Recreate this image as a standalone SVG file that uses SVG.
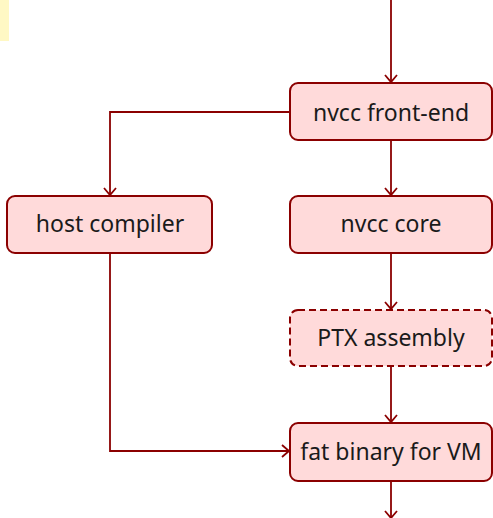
<svg xmlns="http://www.w3.org/2000/svg" width="493" height="518" viewBox="0 0 493 518">
<style>
.box{fill:#ffdada;stroke:#8b0000;stroke-width:2}
.dash{stroke-dasharray:7,4}
.lbl{font-family:"Noto Sans","Open Sans",sans-serif;font-size:23px;fill:#1a1a1a;text-anchor:middle;dominant-baseline:central}
.edge{fill:none;stroke:#8b0000;stroke-width:1.8}
</style>
<defs>
<marker id="arr" markerWidth="14" markerHeight="14" refX="10" refY="7" orient="auto" markerUnits="userSpaceOnUse">
<path d="M3,1 L10,7 L3,13" fill="none" stroke="#8b0000" stroke-width="1.8"/>
</marker>
</defs>
<rect x="0" y="0" width="9" height="41" fill="#fff8c4"/>
<g id="edges">
<path class="edge" d="M391,0 V82" marker-end="url(#arr)"/>
<path class="edge" d="M290,112 H110 V195" marker-end="url(#arr)"/>
<path class="edge" d="M391,140 V195" marker-end="url(#arr)"/>
<path class="edge" d="M391,253 V309" marker-end="url(#arr)"/>
<path class="edge" d="M391,366 V422" marker-end="url(#arr)"/>
<path class="edge" d="M110,253 V451 H289" marker-end="url(#arr)"/>
<path class="edge" d="M391,481 V518" marker-end="url(#arr)"/>
</g>
<g id="front-end"><rect class="box" x="290" y="83" width="202" height="57" rx="8"/><text class="lbl" x="391" y="111.5">nvcc front-end</text></g>
<g id="host"><rect class="box" x="7" y="196" width="205" height="57" rx="8"/><text class="lbl" x="110" y="222.5">host compiler</text></g>
<g id="core"><rect class="box" x="290" y="196" width="202" height="57" rx="8"/><text class="lbl" x="391" y="222.5">nvcc core</text></g>
<g id="ptx"><rect class="box dash" x="290" y="310" width="202" height="56" rx="8"/><text class="lbl" x="391" y="336.5">PTX assembly</text></g>
<g id="fat"><rect class="box" x="290" y="423" width="202" height="58" rx="8"/><text class="lbl" x="391" y="450.5">fat binary for VM</text></g>
</svg>
